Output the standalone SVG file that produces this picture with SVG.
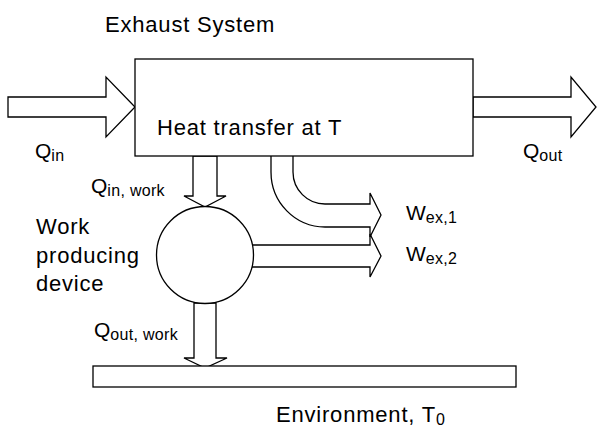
<svg xmlns="http://www.w3.org/2000/svg" width="597" height="429" viewBox="0 0 597 429">
<style>
.s{fill:#fff;stroke:#000;stroke-width:1.3;stroke-linejoin:miter}
text{font-family:"Liberation Sans",Arial,sans-serif;fill:#000}
.m{font-size:22px;letter-spacing:0.8px}
.q{font-size:21px}
.sub{font-size:16px;letter-spacing:0.3px}
</style>
<rect width="597" height="429" fill="#fff"/>
<g id="connectors">
<polygon class="s" points="8,97 106,97 106,77 135,107 106,137 106,117 8,117"/>
<polygon class="s" points="473,97 571,97 571,77 596,107 571,137 571,117 473,117"/>
<polygon class="s" points="193,156 193,196 184,196 205,207 226,196 217,196 217,156"/>
<path class="s" d="M271,156 V172 A54,55 0 0 0 325,227 H370 V237 L381,215 L370,193 V204 H325 A32,32 0 0 1 293,172 V156"/>
<polygon class="s" points="252,245 370,245 370,234 381,256 370,277 370,267 252,267"/>
<polygon class="s" points="194,303 194,358 184,358 205,368 227,358 216,358 216,303"/>
</g>
<g id="exhaust-system">
<rect class="s" x="135" y="59" width="338" height="97"/>
<text class="m" x="105" y="32">Exhaust System</text>
<text class="m" x="157" y="135">Heat transfer at T</text>
</g>
<g id="work-device">
<circle class="s" cx="205" cy="255" r="48.5"/>
<text class="m" x="36" y="234">Work</text>
<text class="m" x="36" y="263">producing</text>
<text class="m" x="36" y="291">device</text>
</g>
<g id="environment">
<rect class="s" x="93" y="366" width="423" height="21"/>
<text class="m" x="276" y="422">Environment, T<tspan class="sub" dy="2.5">0</tspan></text>
</g>
<g id="labels">
<text class="q" x="35" y="158">Q<tspan class="sub" dy="3">in</tspan></text>
<text class="q" x="91" y="193">Q<tspan class="sub" dy="2.5">in, work</tspan></text>
<text class="q" x="523" y="158">Q<tspan class="sub" dy="3">out</tspan></text>
<text class="q" x="94" y="337">Q<tspan class="sub" dy="2.5">out, work</tspan></text>
<text class="q" x="406" y="220">W<tspan class="sub" dy="3">ex,1</tspan></text>
<text class="q" x="406" y="261">W<tspan class="sub" dy="3">ex,2</tspan></text>
</g>
</svg>
